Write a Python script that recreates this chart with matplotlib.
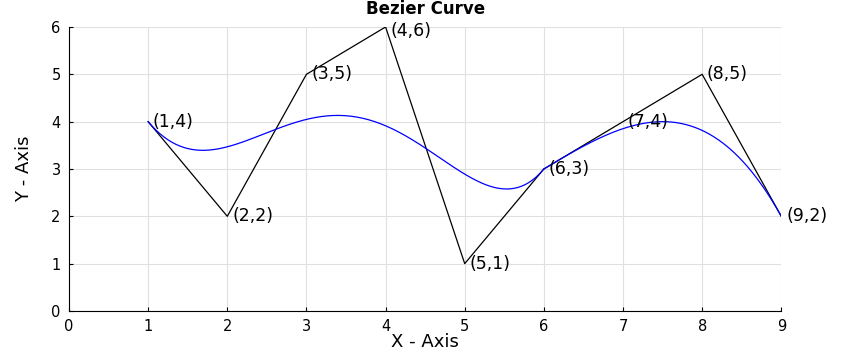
import numpy as np
import matplotlib.pyplot as plt
from math import comb

plt.rcParams['font.family'] = ['DejaVu Sans']

# control points
px = [1, 2, 3, 4, 5, 6, 7, 8, 9]
py = [4, 2, 5, 6, 1, 3, 4, 5, 2]

# the curve is built from two segments: points 0..5 and 5..8
segments = [(0, 5), (5, 8)]


def bezier(xs, ys, n=200):
    t = np.linspace(0, 1, n)
    deg = len(xs) - 1
    bx = np.zeros(n)
    by = np.zeros(n)
    for k in range(deg + 1):
        b = comb(deg, k) * t**k * (1 - t)**(deg - k)
        bx += b * xs[k]
        by += b * ys[k]
    return bx, by


fig = plt.figure(figsize=(8.52, 3.55), dpi=100)
ax = fig.add_axes([0.081, 0.124, 0.836, 0.80])

ax.plot(px, py, color='black', linewidth=0.9)
for a, b in segments:
    cx, cy = bezier(px[a:b + 1], py[a:b + 1])
    ax.plot(cx, cy, color='blue', linewidth=0.9)

for x, y in zip(px, py):
    # the top label sits a little lower so it clears the title
    dy = -0.08 if y == max(py) else 0
    ax.text(x + 0.06, y + dy, f'({x},{y})', fontsize=12.5, va='center', ha='left')

ax.set_xlim(0, 9)
ax.set_ylim(0, 6)
ax.set_xticks(range(0, 10))
ax.set_yticks(range(0, 7))
ax.grid(True, color='#e0e0e0', linewidth=0.8)
ax.set_axisbelow(True)
for s in ['top', 'right']:
    ax.spines[s].set_visible(False)
ax.spines['left'].set_linewidth(0.8)
ax.spines['bottom'].set_linewidth(0.8)
ax.tick_params(direction='in', length=3, labelsize=10.5, colors='black', pad=6)

ax.set_title('Bezier Curve', fontsize=12, fontweight='bold', pad=9)
ax.set_xlabel('X - Axis', fontsize=13, labelpad=-1)
ax.set_ylabel('Y - Axis', fontsize=13, labelpad=13)

plt.savefig('out.png')
